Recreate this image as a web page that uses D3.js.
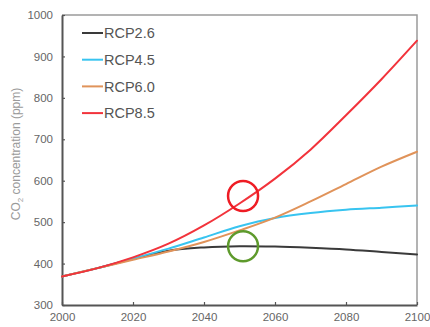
<!DOCTYPE html>
<html>
<head>
<meta charset="utf-8">
<script src="https://cdn.jsdelivr.net/npm/d3@7"></script>
<style>
  html, body { margin: 0; padding: 0; background: #fff; }
  svg { display: block; font-family: "Liberation Sans", Arial, sans-serif; }
</style>
</head>
<body>
<svg id="chart" width="430" height="327"></svg>
<script>
// CO2 concentration pathways (ppm), 2000–2100
const years = [2000, 2010, 2020, 2030, 2040, 2050, 2060, 2070, 2080, 2090, 2100];
const rcp26 = [369, 389, 411, 431, 439, 442, 441, 438, 434, 428, 422];
const rcp45 = [369, 389, 412, 436, 463, 490, 510, 522, 530, 535, 540];
const rcp60 = [369, 389, 409, 429, 452, 480, 511, 550, 592, 634, 670];
const rcp85 = [369, 389, 415, 448, 492, 545, 605, 675, 758, 845, 938];

const seriesNames = ["RCP2.6", "RCP4.5", "RCP6.0", "RCP8.5"];
const seriesValues = [rcp26, rcp45, rcp60, rcp85];
const seriesColors = ["#3a3a3a", "#38c4f0", "#e0935a", "#f2333b"];

const xTicks = [2000, 2020, 2040, 2060, 2080, 2100];
const yTicks = [300, 400, 500, 600, 700, 800, 900, 1000];

// Highlight circles: [year, ppm, colour]
const markers = [
  [2051, 563, "#ee1c24"],
  [2051, 442, "#5e9a2c"]
];

const svg = d3.select("#chart");
const margin = { top: 15, right: 13, bottom: 22, left: 62 };
const W = 430, H = 327;
const iw = W - margin.left - margin.right;
const ih = H - margin.top - margin.bottom;

const x = d3.scaleLinear().domain([2000, 2100]).range([margin.left, margin.left + iw]);
const y = d3.scaleLinear().domain([300, 1000]).range([margin.top + ih, margin.top]);

// Frame: light top/right, darker left/bottom axes
svg.append("path")
  .attr("d", `M${x(2000)},${y(1000)}H${x(2100)}V${y(300)}`)
  .attr("fill", "none").attr("stroke", "#9a9a9a").attr("stroke-width", 1.5);

const yAxis = svg.append("g")
  .attr("transform", `translate(${margin.left},0)`)
  .call(d3.axisLeft(y).tickValues(yTicks).tickFormat(d3.format("d")).tickSizeInner(-3).tickSizeOuter(0).tickPadding(9));
const xAxis = svg.append("g")
  .attr("transform", `translate(0,${margin.top + ih})`)
  .call(d3.axisBottom(x).tickValues(xTicks).tickFormat(d3.format("d")).tickSizeInner(-3).tickSizeOuter(0).tickPadding(8));

[yAxis, xAxis].forEach(g => {
  g.select(".domain").attr("stroke", "#555").attr("stroke-width", 2);
  g.selectAll(".tick line").attr("stroke", "#555").attr("stroke-width", 1.2);
  g.selectAll(".tick text").attr("fill", "#666").attr("font-size", 11.5)
    .attr("font-family", "\"Liberation Sans\", Arial, sans-serif");
});

// Y-axis title
svg.append("text")
  .attr("transform", `translate(20,154) rotate(-90)`)
  .attr("text-anchor", "middle")
  .attr("fill", "#9a9a9a")
  .attr("font-size", 12)
  .call(t => {
    t.append("tspan").text("CO");
    t.append("tspan").attr("font-size", 8).attr("dy", 3).text("2");
    t.append("tspan").attr("dy", -3).text(" concentration (ppm)");
  });

// Series lines
const line = d3.line().x((d, i) => x(years[i])).y(d => y(d)).curve(d3.curveCatmullRom.alpha(0.5));
svg.append("g").selectAll("path")
  .data(seriesValues)
  .join("path")
  .attr("d", line)
  .attr("fill", "none")
  .attr("stroke", (d, i) => seriesColors[i])
  .attr("stroke-width", 2)
  .attr("stroke-linecap", "round");

// Highlight circles
svg.append("g").selectAll("circle")
  .data(markers)
  .join("circle")
  .attr("cx", d => x(d[0]))
  .attr("cy", d => y(d[1]))
  .attr("r", 15)
  .attr("fill", "none")
  .attr("stroke", d => d[2])
  .attr("stroke-width", 2.5);

// Legend
const legend = svg.append("g").attr("transform", "translate(82,33)");
const items = legend.selectAll("g")
  .data(seriesNames)
  .join("g")
  .attr("transform", (d, i) => `translate(0,${i * 26.7})`);
items.append("line")
  .attr("x1", 0).attr("x2", 21).attr("y1", 0).attr("y2", 0)
  .attr("stroke", (d, i) => seriesColors[i])
  .attr("stroke-width", 2);
items.append("text")
  .attr("x", 22).attr("y", 0).attr("dy", "0.36em")
  .attr("fill", "#555")
  .attr("font-size", 14.5)
  .text(d => d);
</script>
</body>
</html>
